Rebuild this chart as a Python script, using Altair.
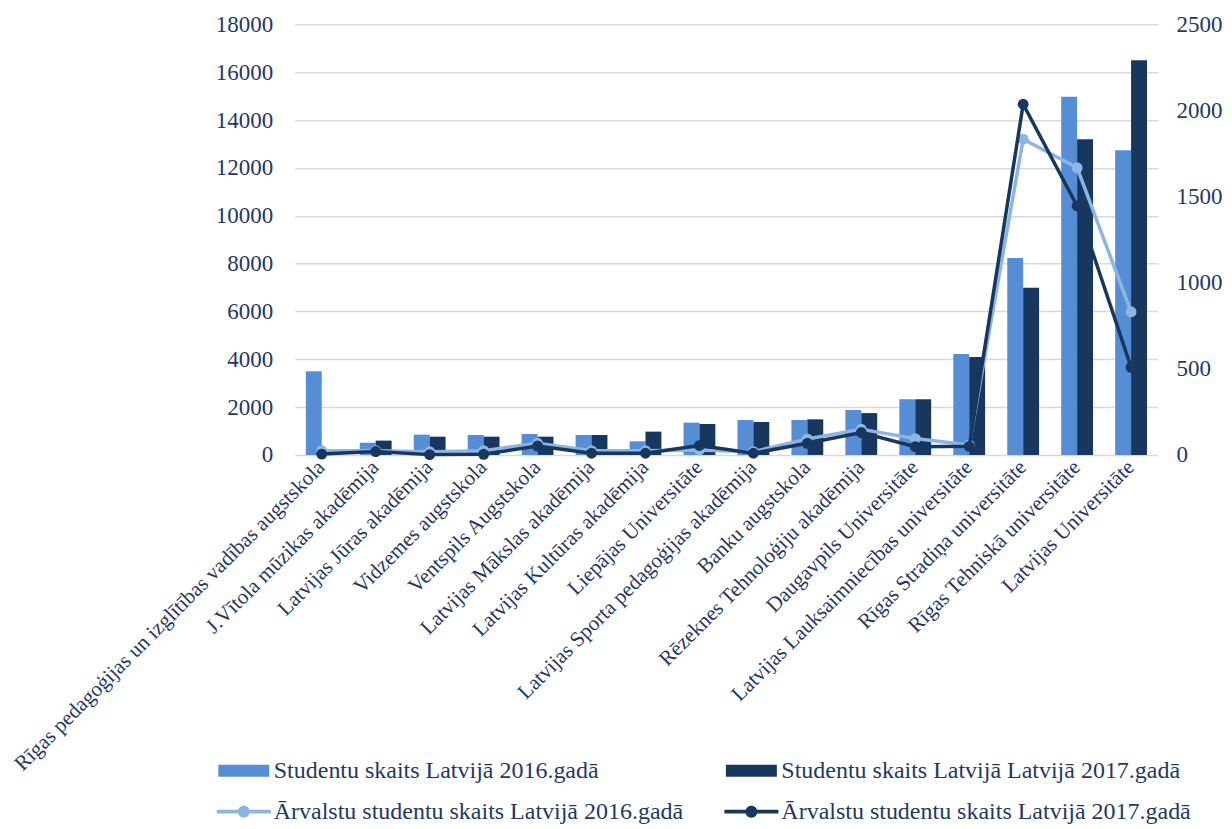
import altair as alt
import pandas as pd

categories = [
    "Rīgas pedagoģijas un izglītības vadības augstskola",
    "J.Vītola mūzikas akadēmija",
    "Latvijas Jūras akadēmija",
    "Vidzemes augstskola",
    "Ventspils Augstskola",
    "Latvijas Mākslas akadēmija",
    "Latvijas Kultūras akadēmija",
    "Liepājas Universitāte",
    "Latvijas Sporta pedagoģijas akadēmija",
    "Banku augstskola",
    "Rēzeknes Tehnoloģiju akadēmija",
    "Daugavpils Universitāte",
    "Latvijas Lauksaimniecības universitāte",
    "Rīgas Stradiņa universitāte",
    "Rīgas Tehniskā universitāte",
    "Latvijas Universitāte",
]
students_2016 = [3500, 510, 850, 835, 877, 835, 570, 1350, 1460, 1460, 1880, 2325, 4220, 8230, 14970, 12740]
students_2017 = [0, 600, 765, 765, 765, 835, 975, 1295, 1380, 1490, 1750, 2325, 4100, 6990, 13200, 16500]
foreign_2016 = [25, 25, 19, 25, 68, 25, 25, 29, 19, 93, 149, 95, 58, 1833, 1667, 831]
foreign_2017 = [5, 20, 2, 4, 52, 10, 10, 55, 10, 68, 130, 48, 50, 2036, 1446, 509]

series = [
    "Studentu skaits Latvijā 2016.gadā",
    "Studentu skaits Latvijā Latvijā 2017.gadā",
    "Ārvalstu studentu skaits Latvijā 2016.gadā",
    "Ārvalstu studentu skaits Latvijā 2017.gadā",
]
colors = ["#558ED5", "#17375E", "#8EB4E3", "#17375E"]

bars_df = pd.DataFrame(
    [{"cat": c, "series": series[0], "v": v} for c, v in zip(categories, students_2016)]
    + [{"cat": c, "series": series[1], "v": v} for c, v in zip(categories, students_2017)]
)
l16_df = pd.DataFrame([{"cat": c, "series": series[2], "v": v} for c, v in zip(categories, foreign_2016)])
l17_df = pd.DataFrame([{"cat": c, "series": series[3], "v": v} for c, v in zip(categories, foreign_2017)])
legend_df = pd.DataFrame({"series": series, "hidden": [2.0] * len(series)})

FONT = "Liberation Serif"
TXT = "#1F3864"

# mark colours (domain listed in reverse so this scale is not grouped with the legend's scale)
color_scale = alt.Scale(domain=series[::-1], range=colors[::-1])

x_enc = alt.X(
    "cat:N",
    sort=categories,
    title=None,
    scale=alt.Scale(paddingInner=0.41, paddingOuter=0.205),
    axis=alt.Axis(
        labelAngle=-45, labelAlign="right", labelBaseline="middle",
        labelPadding=9, ticks=False, domain=False, grid=False,
        labelFont=FONT, labelFontSize=21.2, labelColor=TXT, labelLimit=1000,
        labelOverlap=False,
    ),
)

bars = alt.Chart(bars_df).mark_bar().encode(
    x=x_enc,
    xOffset=alt.XOffset("series:N", scale=alt.Scale(domain=series[:2])),
    y=alt.Y(
        "v:Q", title=None,
        scale=alt.Scale(domain=[0, 18000], nice=False),
        axis=alt.Axis(
            values=list(range(0, 18001, 2000)), format="d", orient="left", ticks=False, domain=False,
            gridColor="#D9D9D9", gridWidth=1.5, labelPadding=22,
            labelFont=FONT, labelFontSize=23, labelColor=TXT,
        ),
    ),
    color=alt.Color("series:N", scale=color_scale, legend=None),
)

right_axis = alt.Axis(
    values=list(range(0, 2501, 500)), format="d", orient="right", ticks=False, domain=False, grid=False,
    labelPadding=18, labelFont=FONT, labelFontSize=23, labelColor=TXT,
)
right_y = alt.Y("v:Q", title=None, scale=alt.Scale(domain=[0, 2500], nice=False), axis=right_axis)

def line_layer(df):
    return alt.Chart(df).mark_line(
        strokeWidth=3.5,
        point=alt.OverlayMarkDef(filled=True, size=120, opacity=1),
    ).encode(
        x=alt.X("cat:N", sort=categories),
        y=right_y,
        color=alt.Color("series:N", scale=color_scale, legend=None),
    )

lines = alt.layer(line_layer(l16_df), line_layer(l17_df))

bar_path = "M-2.55,-0.6L2.55,-0.6L2.55,0.6L-2.55,0.6Z"
line_path = ("M-2.7,-0.19L2.7,-0.19L2.7,0.19L-2.7,0.19Z"
             "M0.6,0A0.6,0.6,0,1,1,-0.6,0A0.6,0.6,0,1,1,0.6,0Z")

# legend-only layer: its points lie outside its own [0, 1] scale and are clipped away
legend_layer = alt.Chart(legend_df).mark_point(
    filled=True, opacity=1, size=400, clip=True
).encode(
    y=alt.Y("hidden:Q", scale=alt.Scale(domain=[0, 1]), axis=None),
    fill=alt.Fill(
        "series:N",
        scale=alt.Scale(domain=series, range=colors),
        legend=alt.Legend(
            title=None, orient="none", legendX=-80, legendY=735,
            direction="horizontal", columns=2, columnPadding=38, rowPadding=17,
            symbolOffset=17, labelOffset=18, symbolSize=400,
            labelFont=FONT, labelFontSize=24, labelColor=TXT, labelLimit=1000,
        ),
    ),
    shape=alt.Shape(
        "series:N",
        scale=alt.Scale(domain=series, range=[bar_path, bar_path, line_path, line_path]),
    ),
)

chart = alt.layer(bars, lines, legend_layer).resolve_scale(
    y="independent"
).properties(
    width=864, height=431,
    autosize=alt.AutoSizeParams(type="none"),
    padding={"left": 287, "top": 16, "right": 66, "bottom": 372},
).configure_view(stroke=None)

chart.save("out.html", embed_options={"renderer": "svg", "actions": False})
